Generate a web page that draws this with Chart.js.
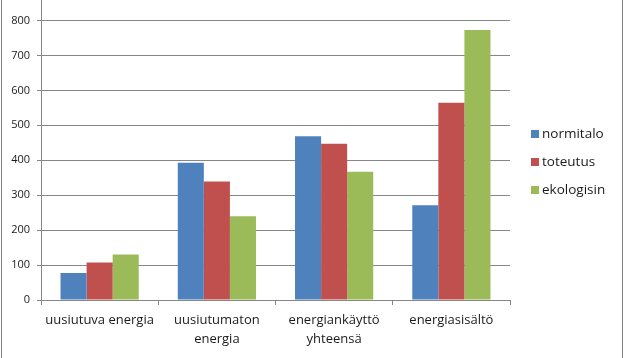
<!DOCTYPE html>
<html>
<head>
<meta charset="utf-8">
<script src="https://cdn.jsdelivr.net/npm/chart.js@4/dist/chart.umd.min.js"></script>
<style>
html,body{margin:0;padding:0;background:#fff;overflow:hidden;width:624px;height:358px;}
#wrap{position:absolute;left:0;top:-28px;width:624px;height:386px;}
</style>
</head>
<body>
<div id="wrap"><canvas id="c" width="624" height="386"></canvas></div>
<script>
const categories = [["uusiutuva energia"], ["uusiutumaton", "energia"], ["energiankäyttö", "yhteensä"], ["energiasisältö"]];
const seriesNames = ["normitalo", "toteutus", "ekologisin"];
const normitalo = [77, 393, 469, 271];
const toteutus = [107, 339, 447, 565];
const ekologisin = [130, 240, 367, 773];
const yTicks = [0, 100, 200, 300, 400, 500, 600, 700, 800, 900];
const colors = ["#4F81BD", "#C0504D", "#9BBB59"];

const FONT = "'Open Sans', 'DejaVu Sans', sans-serif";
const gridColor = "#868686";

const legendPlugin = {
  id: 'customLegend',
  afterDraw(chart) {
    const ctx = chart.ctx;
    ctx.save();
    const x0 = 531, ys = [134, 162, 190];
    chart.data.datasets.forEach((ds, i) => {
      const y = ys[i] + 28;
      ctx.fillStyle = ds.backgroundColor;
      ctx.fillRect(x0, y - 4, 8, 8);
      ctx.fillStyle = "#1a1a1a";
      ctx.font = "13.5px " + FONT;
      ctx.textBaseline = "middle";
      ctx.textAlign = "left";
      ctx.fillText(ds.label, x0 + 11, y + 0.5);
    });
    ctx.strokeStyle = "#7f7f7f";
    ctx.lineWidth = 1;
    ctx.beginPath();
    ctx.moveTo(1.5, 0); ctx.lineTo(1.5, chart.height);
    ctx.moveTo(622.5, 0); ctx.lineTo(622.5, chart.height);
    ctx.stroke();
    ctx.restore();
  }
};

new Chart(document.getElementById('c'), {
  type: 'bar',
  data: {
    labels: categories,
    datasets: [
      { label: seriesNames[0], data: normitalo, backgroundColor: colors[0] },
      { label: seriesNames[1], data: toteutus, backgroundColor: colors[1] },
      { label: seriesNames[2], data: ekologisin, backgroundColor: colors[2] }
    ]
  },
  options: {
    responsive: false,
    animation: false,
    devicePixelRatio: 1,
    layout: { padding: { left: 0, top: 10, right: 114, bottom: 0 } },
    datasets: { bar: { barPercentage: 1, categoryPercentage: 0.667, borderWidth: 0 } },
    plugins: { legend: { display: false }, tooltip: { enabled: false } },
    scales: {
      x: {
        offset: true,
        grid: { display: true, drawOnChartArea: false, drawTicks: true, tickLength: 5, color: gridColor, offset: true },
        border: { display: true, color: gridColor },
        ticks: { color: "#1a1a1a", font: { family: FONT, size: 13, lineHeight: 1.45 }, padding: 6, maxRotation: 0, autoSkip: false },
        afterFit(scale) { scale.height = 58; }
      },
      y: {
        min: 0, max: 900,
        afterBuildTicks(scale) { scale.ticks = yTicks.map(v => ({ value: v })); },
        grid: { color: gridColor, tickLength: 4, drawTicks: true },
        border: { display: true, color: gridColor },
        ticks: { color: "#1a1a1a", font: { family: FONT, size: 11 }, padding: 7 },
        afterFit(scale) { scale.width = 41; }
      }
    }
  },
  plugins: [legendPlugin]
});
</script>
</body>
</html>
